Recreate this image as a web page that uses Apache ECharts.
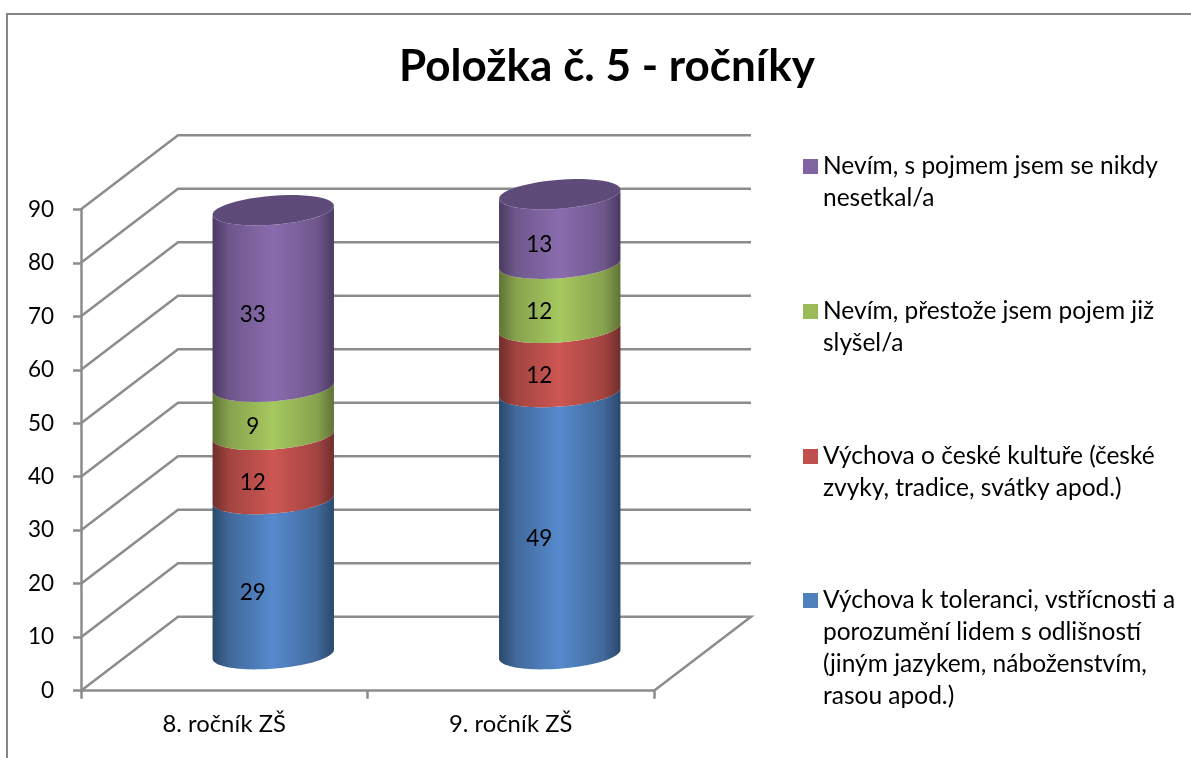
<!DOCTYPE html>
<html><head><meta charset="utf-8">
<style>html,body{margin:0;padding:0;background:#fff}#c{width:1191px;height:758px}</style>
<script src="https://cdn.jsdelivr.net/npm/echarts@6/dist/echarts.min.js"></script>
</head><body><div id="c"></div>
<script>
const categories = ['8. ročník ZŠ', '9. ročník ZŠ'];
const tolerance = [29, 49];
const culture = [12, 12];
const heardOf = [9, 12];
const neverMet = [33, 13];
const yTicks = [0, 10, 20, 30, 40, 50, 60, 70, 80, 90];
const seriesNames = [
  'Výchova k toleranci, vstřícnosti a porozumění lidem s odlišností (jiným jazykem, náboženstvím, rasou apod.)',
  'Výchova o české kultuře (české zvyky, tradice, svátky apod.)',
  'Nevím, přestože jsem pojem již slyšel/a',
  'Nevím, s pojmem jsem se nikdy nesetkal/a'
];
const legendLines = [
  ['Výchova k toleranci, vstřícnosti a', 'porozumění lidem s odlišností', '(jiným jazykem, náboženstvím,', 'rasou apod.)'],
  ['Výchova o české kultuře (české', 'zvyky, tradice, svátky apod.)'],
  ['Nevím, přestože jsem pojem již', 'slyšel/a'],
  ['Nevím, s pojmem jsem se nikdy', 'nesetkal/a']
];
const legendCentres = [600.5, 456.5, 311.5, 166.5];
const values = [tolerance, culture, heardOf, neverMet];
const palette = [
  {flat:'#4f81bd', edge:'#2a486c', mid:'#41699b', bright:'#568ace'},
  {flat:'#c0504d', edge:'#702e2c', mid:'#a34441', bright:'#cd5652'},
  {flat:'#9bbb59', edge:'#5f7336', mid:'#87a34e', bright:'#a6c860'},
  {flat:'#8064a2', edge:'#4b3a60', mid:'#6f578c', bright:'#8a6cae', cap:'#5f4b7a'}
];
const FONT = 'Lato, Carlito, Calibri, sans-serif';
const DEPTH_X = 97, DEPTH_Y = -74;
const CYL_DX = 49, CYL_DY = -36.5, CYL_A = 60.7, CYL_B = 14.5, CYL_K = 4.5;
const LABEL_DX = 28.5, LABEL_DY = -20.5;
const LINE = '#8c8c8c';
const LINE_W = 2.5;
const LINE_H = 32;

function arc(cx, cy, from, to) {
  const pts = [];
  const n = 48;
  for (let i = 0; i <= n; i++) {
    const t = from + (to - from) * i / n;
    pts.push([cx - CYL_A * Math.cos(t), cy + CYL_K * Math.cos(t) + CYL_B * Math.sin(t)]);
  }
  return pts;
}
function renderWall(params, api) {
  const v = api.value(1);
  const band = api.size([1, 0])[0];
  const c0 = api.coord([0, v]);
  const c1 = api.coord([1, v]);
  const xL = c0[0] - band / 2, xR = c1[0] + band / 2, y = c0[1];
  const pts = [[xL, y], [xL + DEPTH_X, y + DEPTH_Y], [xR + DEPTH_X, y + DEPTH_Y]];
  if (v === 0) pts.push([xR, y]);
  return {type: 'polyline', shape: {points: pts}, style: {stroke: LINE, lineWidth: LINE_W, fill: null}, silent: true};
}
function makeBars(si) {
  const p = palette[si];
  const isTop = si === values.length - 1;
  return function (params, api) {
    const i = api.value(0), a = api.value(1), b = api.value(2);
    const lo = api.coord([i, a]), hi = api.coord([i, b]);
    const cx = lo[0] + CYL_DX;
    const yLo = lo[1] + CYL_DY, yHi = hi[1] + CYL_DY;
    const points = arc(cx, yLo, 0, Math.PI).concat(arc(cx, yHi, Math.PI, 0));
    const children = [{
      type: 'polygon', shape: {points},
      style: {fill: {type: 'linear', x: 0, y: 0, x2: 1, y2: 0, colorStops: [
        {offset: 0, color: p.edge}, {offset: 0.14, color: p.mid}, {offset: 0.5, color: p.bright},
        {offset: 0.86, color: p.mid}, {offset: 1, color: p.edge}]}}
    }];
    if (isTop) {
      children.push({type: 'polygon', shape: {points: arc(cx, yHi, 0, 2 * Math.PI)}, style: {fill: p.cap}});
    }
    const mid = api.coord([i, (a + b) / 2]);
    children.push({
      type: 'text', z2: 10,
      style: {text: String(b - a), x: mid[0] + LABEL_DX, y: mid[1] + LABEL_DY, align: 'center', verticalAlign: 'middle',
        fill: '#000', font: '22.5px ' + FONT}
    });
    return {type: 'group', children};
  };
}
const series = [{
  type: 'custom', name: 'wall', silent: true, clip: false, z: 1,
  encode: {x: 0, y: 1}, renderItem: renderWall,
  data: yTicks.map(v => [0, v])
}];
values.forEach((vals, si) => {
  series.push({
    type: 'custom', name: seriesNames[si], clip: false, z: 2 + si, silent: true,
    itemStyle: {color: palette[si].flat},
    encode: {x: 0, y: [1, 2]}, renderItem: makeBars(si),
    data: categories.map((c, i) => {
      let base = 0;
      for (let k = 0; k < si; k++) base += values[k][i];
      return [i, base, base + vals[i]];
    })
  });
});
const legends = seriesNames.map((name, si) => ({
  data: [name], orient: 'vertical', left: 803,
  top: legendCentres[si] - (2 * legendLines[si].length - 1) * LINE_H / 2,
  padding: 0, itemWidth: 15, itemHeight: 15, itemGap: 0, icon: 'rect', selectedMode: false, itemStyle: {borderWidth: 0},
  formatter: () => '\n'.repeat(legendLines[si].length - 1) + legendLines[si].join('\n'),
  textStyle: {fontFamily: FONT, fontSize: 24.5, lineHeight: LINE_H, color: '#000'}
}));
const chart = echarts.init(document.getElementById('c'), null, {renderer: 'canvas'});
chart.setOption({
  animation: false,
  backgroundColor: '#fff',
  title: {text: 'Položka č. 5 - ročníky', left: 602, top: 40, textAlign: 'center',
    textStyle: {fontFamily: FONT, fontSize: 44, fontWeight: 'bold', color: '#000'}},
  grid: {left: 81, right: 537, top: 209.3, bottom: 67.3},
  xAxis: {type: 'category', data: categories,
    axisLine: {lineStyle: {color: LINE, width: LINE_W}},
    axisTick: {show: true, length: 8, lineStyle: {color: LINE, width: LINE_W}},
    axisLabel: {fontFamily: FONT, fontSize: 23.8, color: '#000', margin: 22}},
  yAxis: {type: 'value', min: 0, max: 90, interval: 10,
    axisLine: {show: true, lineStyle: {color: LINE, width: LINE_W}},
    axisTick: {show: true, length: 8, lineStyle: {color: LINE, width: LINE_W}},
    splitLine: {show: false},
    axisLabel: {fontFamily: FONT, fontSize: 22.5, color: '#000', margin: 27, padding: [2, 0, 0, 0]}},
  legend: legends,
  series,
  graphic: [{type: 'polyline', silent: true, z: 0,
    shape: {points: [[7, 758], [7, 14], [1191, 14]]},
    style: {stroke: '#868686', lineWidth: 2, fill: null}}]
});
</script></body></html>
